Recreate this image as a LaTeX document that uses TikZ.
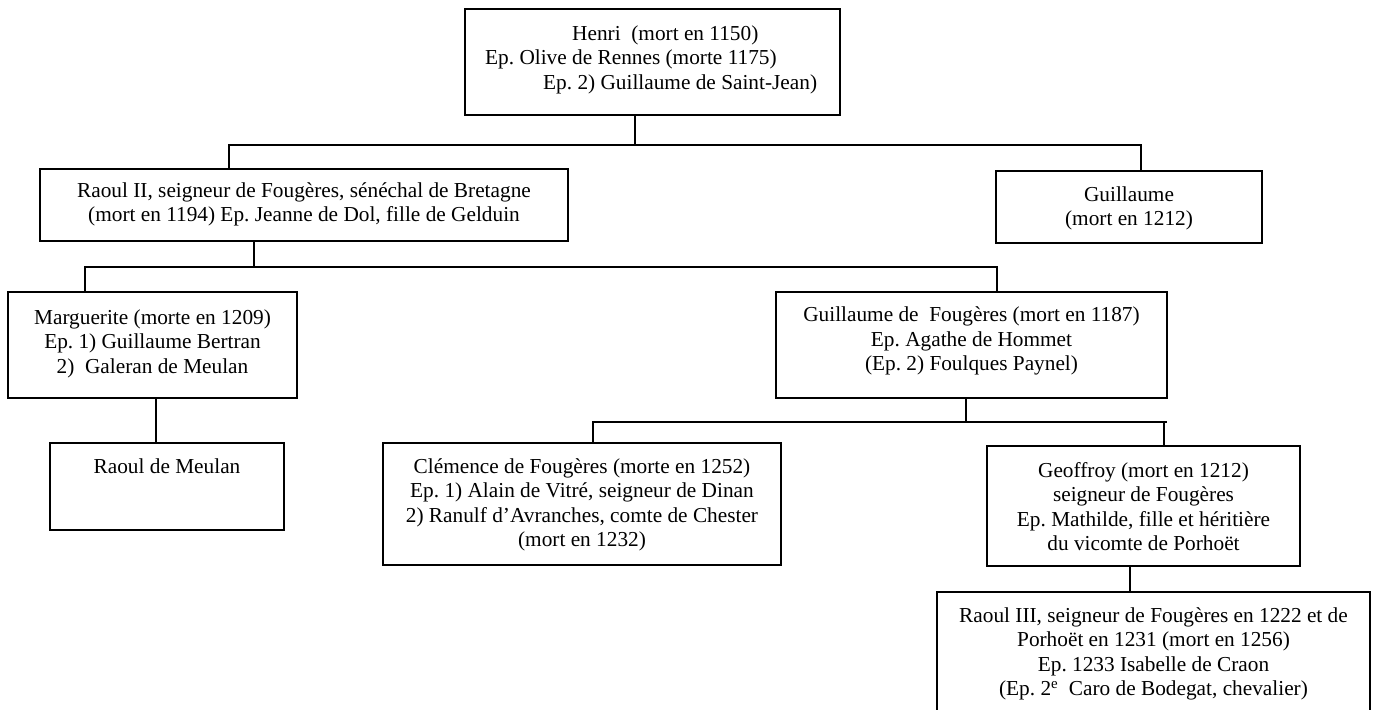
\documentclass[tikz,border=0pt]{standalone}
\usepackage{fontspec}
\setmainfont{Liberation Serif}
% fixed height for the first line of every label, so labels can be placed by their top
\newcommand\tstr{\rule{0pt}{17pt}}
\frenchspacing
\begin{document}
\begin{tikzpicture}[x=1pt,y=-1pt,
  box/.style={draw, line width=1.6pt, inner sep=0pt, outer sep=0pt, anchor=north west},
  txt/.style={font=\fontsize{21.3}{24.5}\selectfont, align=center, inner sep=0pt, anchor=north},
  link/.style={line width=1.6pt}]
\useasboundingbox (0,0) rectangle (1375,709);
\clip (0,0) rectangle (1375,709);

% ---- family boxes
\node[box, minimum width=375, minimum height=106] (henri) at (465,9) {};
\node[box, minimum width=528, minimum height=72]  (raoul) at (40,169) {};
\node[box, minimum width=266, minimum height=72]  (guil)  at (996,171) {};
\node[box, minimum width=289, minimum height=106] (marg)  at (8,292) {};
\node[box, minimum width=234, minimum height=87]  (rdm)   at (50,443) {};
\node[box, minimum width=391, minimum height=106] (gdf)   at (776,292) {};
\node[box, minimum width=398, minimum height=122] (clem)  at (383,443) {};
\node[box, minimum width=313, minimum height=120] (geof)  at (987,446) {};
\node[box, minimum width=433, minimum height=140] (rtrois) at (937,592) {};

% ---- labels
\node[txt, anchor=north west, align=left] (henriT) at (485,23)
  {\tstr\hspace*{87pt}Henri\ \ (mort en 1150)\\
   Ep. Olive de Rennes (morte 1175)\\
   \hspace*{58pt}Ep. 2) Guillaume de Saint-Jean)};
\node[txt] (raoulT) at (304,180)
  {\tstr Raoul II, seigneur de Fougères, sénéchal de Bretagne\\
   (mort en 1194) Ep. Jeanne de Dol, fille de Gelduin};
\node[txt] (guilT) at (1129,184) {\tstr Guillaume\\(mort en 1212)};
\node[txt] (margT) at (152.5,307)
  {\tstr Marguerite (morte en 1209)\\Ep. 1) Guillaume Bertran\\2)\ \ Galeran de Meulan};
\node[txt] (rdmT) at (167,456) {\tstr Raoul de Meulan};
\node[txt] (gdfT) at (971.5,304.5)
  {\tstr Guillaume de\ \ Fougères (mort en 1187)\\Ep. Agathe de Hommet\\(Ep. 2) Foulques Paynel)};
\node[txt] (clemT) at (582,456)
  {\tstr Clémence de Fougères (morte en 1252)\\
   Ep. 1) Alain de Vitré, seigneur de Dinan\\
   2) Ranulf d’Avranches, comte de Chester\\
   (mort en 1232)};
\node[txt] (geofT) at (1143.5,460)
  {\tstr Geoffroy (mort en 1212)\\seigneur de Fougères\\
   Ep. Mathilde, fille et héritière\\du vicomte de Porhoët};
\node[txt] (rtroisT) at (1153.5,605)
  {\tstr Raoul III, seigneur de Fougères en 1222 et de\\
   Porhoët en 1231 (mort en 1256)\\
   Ep. 1233 Isabelle de Craon\\
   (Ep. 2\textsuperscript{e}\ \ Caro de Bodegat, chevalier)};

% ---- junction points of the family lines
\coordinate (a0) at (635,145);
\coordinate (a1) at (229,145);
\coordinate (a2) at (1141,145);
\coordinate (b0) at (254,267);
\coordinate (b1) at (85,267);
\coordinate (b2) at (997,267);
\coordinate (c0) at (156,420);
\coordinate (d0) at (966,422);
\coordinate (d1) at (593,422);
\coordinate (d2) at (1167,422);
\coordinate (d3) at (1164,422);
\coordinate (e0) at (1130,580);

% ---- connectors
\draw[link] (a0 |- henri.south) -- (a0);
\draw[link] (a1 |- raoul.north) -- (a1) -- (a2) -- (a2 |- guil.north);
\draw[link] (b0 |- raoul.south) -- (b0);
\draw[link] (b1 |- marg.north) -- (b1) -- (b2) -- (b2 |- gdf.north);
\draw[link] (c0 |- marg.south) -- (c0 |- rdm.north);
\draw[link] (d0 |- gdf.south) -- (d0);
\draw[link] (d1 |- clem.north) -- (d1) -- (d2);
\draw[link] (d3) -- (d3 |- geof.north);
\draw[link] (e0 |- geof.south) -- (e0 |- rtrois.north);
\end{tikzpicture}
\end{document}
